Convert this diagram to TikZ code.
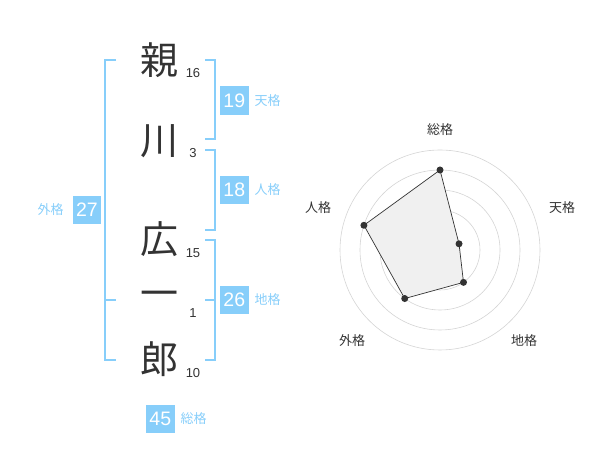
\documentclass[tikz,border=0pt]{standalone}
\usepackage{fontspec}
\setmainfont{Liberation Sans}
\newfontfamily\jpfont{Noto Sans CJK JP}
\definecolor{kakublue}{HTML}{87CEFA}
\definecolor{inkgray}{HTML}{333333}
\usetikzlibrary{positioning}

\begin{document}
\begin{tikzpicture}[x=1pt, y=1pt, every node/.style={inner sep=0pt, text=inkgray},
        kanji/.style={font=\jpfont\fontsize{38}{38}\selectfont},
        strokes/.style={font=\fontsize{13}{13}\selectfont},
        kakubox/.style={fill=kakublue, minimum size=28.7pt, text=white, font=\fontsize{19.5}{19.5}\selectfont},
        kakuname/.style={text=kakublue, font=\jpfont\fontsize{13}{13}\selectfont},
        bracket/.style={draw=kakublue, line width=2pt},
        ring/.style={draw=black!17, line width=0.6pt},
        axisname/.style={font=\jpfont\fontsize{13}{13}\selectfont},
        dot/.style={circle, fill=inkgray, minimum size=7pt}]

        \useasboundingbox (0,0) rectangle (600,470);

        % name, one character per row
        \node[kanji] (oya) at (159,410) {親};
        \node[kanji] (kawa) at (159,329) {川};
        \node[kanji] (hiro) at (159,231) {広};
        \node[kanji] (ichi) at (159,171) {一};
        \node[kanji] (ro) at (159,111) {郎};

        \node[strokes] (oyaN) at (193,397) {16};
        \node[strokes] (kawaN) at (193,317) {3};
        \node[strokes] (hiroN) at (193,217) {15};
        \node[strokes] (ichiN) at (193,157) {1};
        \node[strokes] (roN) at (193,97) {10};

        % brackets
        \draw[bracket] (116,410) -- (105,410) -- (105,110) -- (116,110);
        \draw[bracket] (105,170) -- (116,170);
        \draw[bracket] (205,410) -- (215,410) -- (215,330.5) -- (205,330.5);
        \draw[bracket] (205,320) -- (215,320) -- (215,240) -- (205,240);
        \draw[bracket] (205,230) -- (215,230) -- (215,110) -- (205,110);
        \draw[bracket] (205,170) -- (215,170);

        % the five values
        \node[kakubox] (ten) at (234.3,369.7) {19};
        \node[kakuname, right=5.5pt of ten] (tenL) {天格};
        \node[kakubox] (jin) at (234.3,280) {18};
        \node[kakuname, right=5.5pt of jin] (jinL) {人格};
        \node[kakubox] (chi) at (234.3,170) {26};
        \node[kakuname, right=5.5pt of chi] (chiL) {地格};
        \node[kakubox] (gai) at (87,260) {27};
        \node[kakuname, left=8.5pt of gai] (gaiL) {外格};
        \node[kakubox] (so) at (160.3,51) {45};
        \node[kakuname, right=5.5pt of so] (soL) {総格};

        % radar chart
        \begin{scope}[shift={(440,220)}]
            \foreach \r in {20,40,...,100}
                \draw[ring] (0,0) circle (\r);
            \node[circle, fill=black!20, minimum size=7pt] (hub) at (0,0) {};

            \coordinate (pSo) at (90:80);
            \coordinate (pTen) at (18:20);
            \coordinate (pChi) at (-54:40);
            \coordinate (pGai) at (-126:60);
            \coordinate (pJin) at (162:80);
            \filldraw[fill=black!6, draw=inkgray, line width=0.7pt]
                (pSo) -- (pTen) -- (pChi) -- (pGai) -- (pJin) -- cycle;
            \foreach \p in {pSo,pTen,pChi,pGai,pJin}
                \node[dot] at (\p) {};

            \node[axisname] (aSo) at (0,120) {総格};
            \node[axisname] (aTen) at (122,42) {天格};
            \node[axisname] (aChi) at (84,-91) {地格};
            \node[axisname] (aGai) at (-88,-91) {外格};
            \node[axisname] (aJin) at (-122,42) {人格};
        \end{scope}
\end{tikzpicture}
\end{document}
